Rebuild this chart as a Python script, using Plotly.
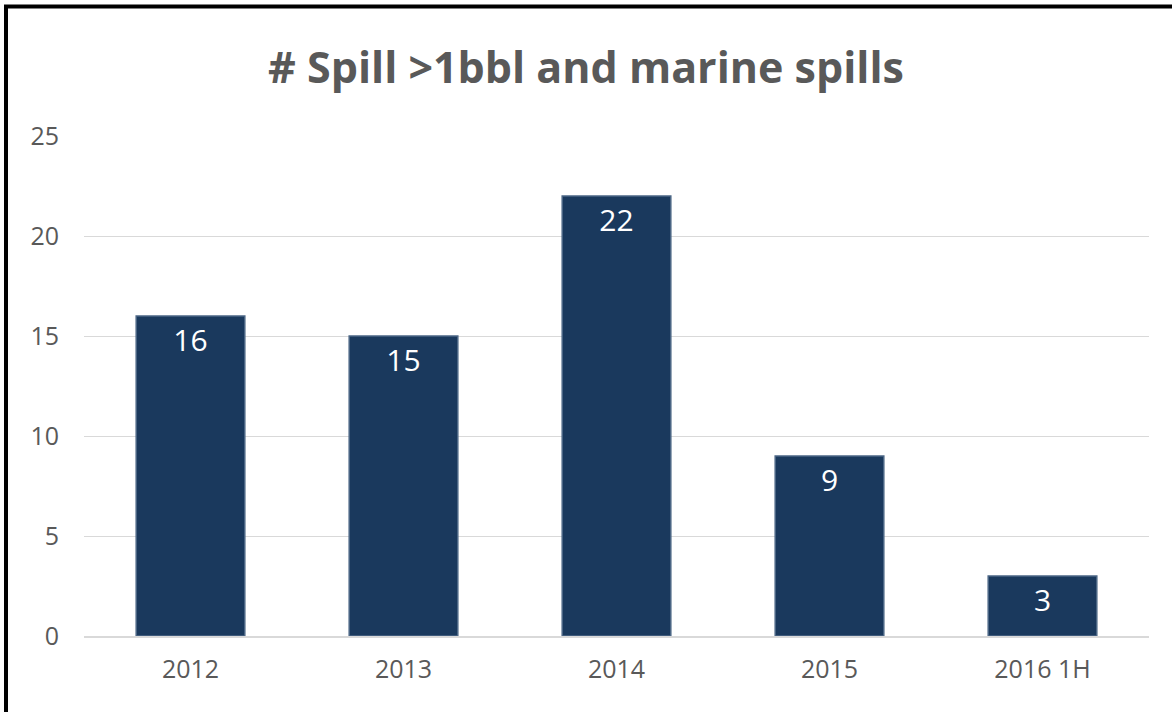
import plotly.graph_objects as go

categories = ["2012", "2013", "2014", "2015", "2016 1H"]
spills = [16, 15, 22, 9, 3]
y_ticks = [0, 5, 10, 15, 20, 25]

W, H = 1172, 712
ml, mr, mt, mb = 84, 23, 136, 76
pw, ph = W - ml - mr, H - mt - mb

fig = go.Figure()
fig.add_trace(go.Bar(
    x=categories, y=spills,
    text=[str(v) for v in spills],
    textposition="inside", insidetextanchor="end",
    textfont=dict(color="white", size=30, family="Open Sans"),
    marker=dict(color="#1a395d", line=dict(color="#4b6685", width=1.5)),
    width=0.51,
    hoverinfo="x+y",
))

fig.update_layout(
    width=W, height=H,
    margin=dict(l=ml, r=mr, t=mt, b=mb),
    paper_bgcolor="white", plot_bgcolor="white",
    title=dict(text="<b># Spill >1bbl and marine spills</b>", x=0.5, xanchor="center",
               y=1 - 68 / H, yanchor="middle",
               font=dict(size=43, color="#595959", family="Open Sans")),
    showlegend=False,
    font=dict(family="Open Sans", color="#595959"),
)
fig.update_xaxes(showgrid=False, showline=True, linecolor="#d9d9d9", linewidth=1.5,
                 ticks="", tickfont=dict(size=25, color="#595959"), ticklabelstandoff=10)
fig.update_yaxes(range=[0, 25], tickvals=y_ticks, showgrid=True, gridcolor="#d9d9d9",
                 gridwidth=1, zeroline=False, showline=False, ticks="",
                 tickfont=dict(size=25, color="#595959"), ticklabelstandoff=24)

fig.add_shape(type="rect", xref="paper", yref="paper",
              x0=(6 - ml) / pw, x1=1.2, y0=-0.5, y1=(H - mb - 6.5) / ph,
              line=dict(color="black", width=4), fillcolor="rgba(0,0,0,0)", layer="above")

fig.write_html("out.html", config={"displayModeBar": False},
               post_script="document.body.style.margin='0px';document.body.style.overflow='hidden';")
